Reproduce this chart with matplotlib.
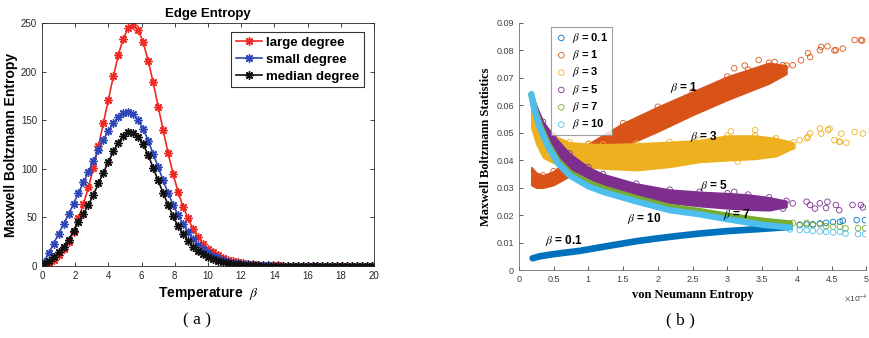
import numpy as np
import matplotlib.pyplot as plt

plt.rcParams['font.family'] = ['Liberation Sans', 'DejaVu Sans']
plt.rcParams['mathtext.fontset'] = 'stix'

# -------------------------------
# (a) Edge entropy vs temperature
# -------------------------------
beta = np.linspace(0.1, 19.9, 67)

large_degree = [1, 3, 6, 11, 17, 25, 35, 49, 64, 81,
                101, 123, 147, 171, 195, 217, 234, 245, 248, 243,
                230, 211, 189, 164, 140, 116, 95, 76, 61, 49,
                38, 30, 23, 18, 14, 11, 8.5, 6.5, 5, 4,
                3, 2.3, 1.8, 1.4, 1.1, 0.9, 0.7, 0.6, 0.5, 0.4,
                0.35, 0.3, 0.3, 0.25, 0.25, 0.2, 0.2, 0.2, 0.15, 0.15,
                0.15, 0.1, 0.1, 0.1, 0.1, 0.1, 0.1]
small_degree = [4, 13, 23, 33, 43, 53, 64, 75, 86, 97,
                108, 119, 130, 139, 147, 153, 157, 158, 156, 150,
                141, 129, 115, 102, 88, 75, 63, 52, 43, 35,
                28, 22, 17, 13, 10, 7.8, 6, 4.6, 3.5, 2.7,
                2.1, 1.6, 1.2, 0.9, 0.7, 0.6, 0.5, 0.4, 0.35, 0.3,
                0.3, 0.25, 0.25, 0.2, 0.2, 0.2, 0.15, 0.15, 0.15, 0.1,
                0.1, 0.1, 0.1, 0.1, 0.1, 0.1, 0.1]
median_degree = [2, 5, 9, 14, 20, 27, 36, 45, 54, 63,
                 73, 85, 96, 107, 118, 127, 134, 138, 137, 133,
                 125, 114, 101, 88, 75, 63, 51, 41, 33, 26,
                 20, 15.5, 12, 9, 7, 5.3, 4, 3, 2.3, 1.7,
                 1.3, 1.0, 0.8, 0.6, 0.5, 0.4, 0.35, 0.3, 0.3, 0.25,
                 0.25, 0.2, 0.2, 0.2, 0.15, 0.15, 0.15, 0.1, 0.1, 0.1,
                 0.1, 0.1, 0.1, 0.1, 0.1, 0.1, 0.1]

# -------------------------------
# (b) MB statistics vs von Neumann entropy (x in units of 1e-4)
# -------------------------------
# wide bands: x, lower edge, upper edge
b1_x = [0.18, 0.25, 0.35, 0.5, 0.75, 1.0, 1.5, 2.0, 2.5, 3.0, 3.3, 3.6, 3.85]
b1_lo = [0.031, 0.030, 0.030, 0.031, 0.0345, 0.038, 0.045, 0.0505, 0.0565, 0.062, 0.065, 0.068, 0.0715]
b1_hi = [0.0375, 0.0355, 0.0345, 0.036, 0.041, 0.046, 0.0535, 0.0595, 0.065, 0.0705, 0.073, 0.0755, 0.0745]

b3_x = [0.18, 0.25, 0.35, 0.5, 0.73, 1.0, 1.21, 1.69, 2.17, 2.6, 3.0, 3.4, 3.7, 3.95]
b3_lo = [0.052, 0.046, 0.041, 0.039, 0.038, 0.0375, 0.037, 0.0364, 0.0376, 0.0394, 0.040, 0.0405, 0.0415, 0.0445]
b3_hi = [0.064, 0.056, 0.052, 0.049, 0.0465, 0.046, 0.0458, 0.0461, 0.0467, 0.0473, 0.049, 0.049, 0.048, 0.0465]

b5_x = [0.18, 0.25, 0.35, 0.5, 0.73, 1.0, 1.21, 1.69, 2.17, 2.6, 3.0, 3.3, 3.6, 3.85]
b5_lo = [0.060, 0.054, 0.048, 0.043, 0.037, 0.0335, 0.031, 0.027, 0.0245, 0.0233, 0.0225, 0.022, 0.0218, 0.023]
b5_hi = [0.065, 0.060, 0.054, 0.049, 0.0425, 0.0375, 0.035, 0.0315, 0.0293, 0.0285, 0.028, 0.0275, 0.0265, 0.0252]

# thin bands: centre lines
thin_x = [0.18, 0.22, 0.3, 0.42, 0.56, 0.73, 1.0, 1.21, 1.69, 2.17, 2.6, 3.0, 3.5, 3.9]
b7_y = [0.064, 0.0595, 0.053, 0.046, 0.040, 0.0355, 0.0318, 0.0298, 0.0262, 0.0230, 0.0215, 0.0198, 0.0180, 0.0170]
b10_y = [0.064, 0.059, 0.052, 0.045, 0.039, 0.0345, 0.0305, 0.0285, 0.025, 0.0218, 0.0203, 0.0185, 0.0165, 0.0155]

b01_x = [0.2, 0.3, 0.5, 0.88, 1.36, 1.69, 1.98, 2.31, 2.6, 3.0, 3.5, 3.9]
b01_y = [0.0043, 0.0050, 0.0058, 0.0070, 0.0091, 0.0105, 0.0115, 0.0125, 0.0133, 0.0142, 0.0150, 0.0157]

# scattered tails
t1_x = [3.1, 3.25, 3.37, 3.45, 3.56, 3.68, 3.71, 3.80, 3.94, 4.06, 4.16, 4.19, 4.33, 4.35, 4.44, 4.54, 4.56,
        4.66, 4.83, 4.92, 4.94]
t1_y = [0.0735, 0.0745, 0.0716, 0.0765, 0.0722, 0.0758, 0.074, 0.0746, 0.0746, 0.0764, 0.079, 0.0776, 0.0801,
        0.0813, 0.0815, 0.080, 0.0801, 0.0807, 0.0838, 0.0838, 0.0836]
t3_x = [3.05, 3.15, 3.26, 3.28, 3.40, 3.42, 3.47, 3.66, 3.71, 3.75, 3.85, 3.94, 4.04, 4.14, 4.16, 4.19, 4.33,
        4.35, 4.45, 4.47, 4.54, 4.61, 4.62, 4.64, 4.71, 4.83, 4.95]
t3_y = [0.0505, 0.0395, 0.0426, 0.0455, 0.051, 0.0437, 0.0455, 0.0473, 0.0449, 0.0461, 0.0455, 0.0449, 0.0473,
        0.048, 0.0485, 0.0498, 0.0516, 0.0497, 0.051, 0.0515, 0.0473, 0.0468, 0.0467, 0.0497, 0.0464, 0.0503,
        0.0497]
t5_x = [3.1, 3.22, 3.37, 3.56, 3.75, 3.80, 3.94, 4.14, 4.19, 4.26, 4.33, 4.42, 4.44, 4.56, 4.61, 4.80, 4.92,
        4.95]
t5_y = [0.0285, 0.0261, 0.0243, 0.0249, 0.0243, 0.0224, 0.0243, 0.0249, 0.0237, 0.0224, 0.0243, 0.0226, 0.0249,
        0.0237, 0.0218, 0.0237, 0.0237, 0.0228]
t7_x = [3.8, 3.94, 4.04, 4.14, 4.23, 4.33, 4.42, 4.52, 4.62, 4.70, 4.88, 4.98]
t7_y = [0.0168, 0.0172, 0.0166, 0.0172, 0.0164, 0.0167, 0.0160, 0.0158, 0.0158, 0.0152, 0.0152, 0.0152]
t10_x = [3.9, 4.04, 4.14, 4.23, 4.33, 4.42, 4.52, 4.62, 4.70, 4.88, 4.98]
t10_y = [0.0148, 0.0146, 0.0145, 0.0143, 0.0141, 0.0139, 0.0137, 0.0139, 0.0133, 0.0131, 0.0131]
t01_x = [3.87, 4.04, 4.14, 4.23, 4.33, 4.42, 4.52, 4.62, 4.66, 4.86, 4.98]
t01_y = [0.016, 0.0164, 0.0166, 0.0167, 0.0170, 0.0172, 0.0175, 0.0176, 0.0180, 0.0182, 0.0182]

beta_labels = ['0.1', '1', '3', '5', '7', '10']
label_pos = [(0.37, 0.0109), (2.17, 0.0665), (2.46, 0.0488), (2.61, 0.0309), (2.94, 0.0203), (1.55, 0.0188)]

colors = ['#0072BD', '#D95319', '#EDB120', '#7E2F8E', '#77AC30', '#4DBEEE']

# -------------------------------
# Figure
# -------------------------------
fig = plt.figure(figsize=(8.69, 3.38), dpi=100)

# ---- panel (a)
ax1 = fig.add_axes([0.0483, 0.213, 0.382, 0.719])
star = (8, 2, 0)
for y, c, lab in [(large_degree, '#EE2A24', 'large degree'),
                  (small_degree, '#2F46B6', 'small degree'),
                  (median_degree, '#111111', 'median degree')]:
    ax1.plot(beta, y, color=c, lw=1.2, marker=star, ms=6, mew=1.0, label=lab)

ax1.set_xlim(0, 20)
ax1.set_ylim(0, 250)
ax1.set_xticks(np.arange(0, 21, 2))
ax1.set_yticks(np.arange(0, 251, 50))
ax1.tick_params(direction='in', top=True, right=True, labelsize=7, colors='#262626', length=3, width=0.6)
for s in ax1.spines.values():
    s.set_color('#262626')
    s.set_linewidth(0.6)
ax1.set_title('Edge Entropy', fontsize=9.5, fontweight='bold', pad=4)
ax1.set_ylabel('Maxwell Boltzmann Entropy', fontsize=10, fontweight='bold', labelpad=2)
ax1.set_xlabel(r'Temperature  $\beta$', fontsize=10, fontweight='bold', labelpad=3)
leg1 = ax1.legend(loc='upper right', bbox_to_anchor=(0.970, 0.963), borderaxespad=0,
                  prop={'size': 9.5, 'weight': 'bold'}, fancybox=False, edgecolor='black',
                  handlelength=2.0, handletextpad=0.3, borderpad=0.35, labelspacing=0.35)
leg1.get_frame().set_linewidth(0.8)

# ---- panel (b)
ax2 = fig.add_axes([0.597, 0.201, 0.4, 0.731])
ax2.fill_between(b1_x, b1_lo, b1_hi, color=colors[1], lw=1.2, zorder=2)
ax2.fill_between(b3_x, b3_lo, b3_hi, color=colors[2], lw=1.2, zorder=3)
ax2.fill_between(b5_x, b5_lo, b5_hi, color=colors[3], lw=1.2, zorder=4)
ax2.plot(b01_x, b01_y, color=colors[0], lw=4.8, solid_capstyle='round', zorder=1)
ax2.plot(thin_x, b7_y, color=colors[4], lw=4.5, solid_capstyle='round', zorder=5)
ax2.plot(thin_x, b10_y, color=colors[5], lw=4.5, solid_capstyle='round', zorder=6)

# open circles along the band edges and in the sparse tails
for bx, lo, hi, c, z in [(b1_x, b1_lo, b1_hi, colors[1], 2), (b3_x, b3_lo, b3_hi, colors[2], 3),
                         (b5_x, b5_lo, b5_hi, colors[3], 4)]:
    ax2.scatter(bx[2:], hi[2:], s=16, facecolors='none', edgecolors=c, linewidths=0.6, zorder=z)
for tx, ty, c, z in [(t01_x, t01_y, colors[0], 1), (t1_x, t1_y, colors[1], 2), (t3_x, t3_y, colors[2], 3),
                     (t5_x, t5_y, colors[3], 4), (t7_x, t7_y, colors[4], 5), (t10_x, t10_y, colors[5], 6)]:
    ax2.scatter(tx, ty, s=16, facecolors='none', edgecolors=c, linewidths=0.6, zorder=z)

for lab, (px, py) in zip(beta_labels, label_pos):
    ax2.text(px, py, r'$\beta$ = ' + lab, fontsize=8.5, fontweight='bold', va='center', ha='left', zorder=8)

# legend handles (open circles)
handles = [ax2.scatter([], [], s=16, facecolors='none', edgecolors=c, linewidths=0.6) for c in colors]
leg2 = ax2.legend(handles, [r'$\beta$ = ' + b for b in beta_labels], loc='upper left',
                  bbox_to_anchor=(0.092, 0.984), borderaxespad=0, prop={'size': 8, 'weight': 'bold'},
                  fancybox=False, edgecolor='#888888', handletextpad=0.4, borderpad=0.35,
                  labelspacing=0.3, handlelength=1.2)
leg2.get_frame().set_linewidth(0.8)

ax2.set_xlim(0, 5)
ax2.set_ylim(0, 0.09)
ax2.set_xticks(np.arange(0, 5.01, 0.5))
ax2.set_xticklabels(['0', '0.5', '1', '1.5', '2', '2.5', '3', '3.5', '4', '4.5', '5'])
ax2.set_yticks(np.arange(0, 0.0901, 0.01))
ax2.set_yticklabels(['0'] + ['%.2f' % v for v in np.arange(0.01, 0.0901, 0.01)])
ax2.tick_params(direction='in', labelsize=6.5, colors='#404040', length=3, width=0.6)
ax2.spines['top'].set_visible(False)
ax2.spines['right'].set_visible(False)
for s in ['left', 'bottom']:
    ax2.spines[s].set_color('#707070')
    ax2.spines[s].set_linewidth(0.6)
ax2.set_ylabel('Maxwell Boltzmann Statistics', fontsize=9, fontweight='bold',
               family='Liberation Serif', labelpad=3)
ax2.set_xlabel('von Neumann Entropy', fontsize=9, fontweight='bold', family='Liberation Serif', labelpad=4)
ax2.text(0.935, -0.11, r'$\times$10$^{-4}$', transform=ax2.transAxes, fontsize=6, color='#404040',
         ha='left', va='center')

fig.text(197 / 869, 1 - 320 / 338, '( a )', fontsize=12.5, family='Liberation Serif', ha='center', va='center')
fig.text(680 / 869, 1 - 320 / 338, '( b )', fontsize=12.5, family='Liberation Serif', ha='center', va='center')

fig.savefig('out.png', dpi=100)
